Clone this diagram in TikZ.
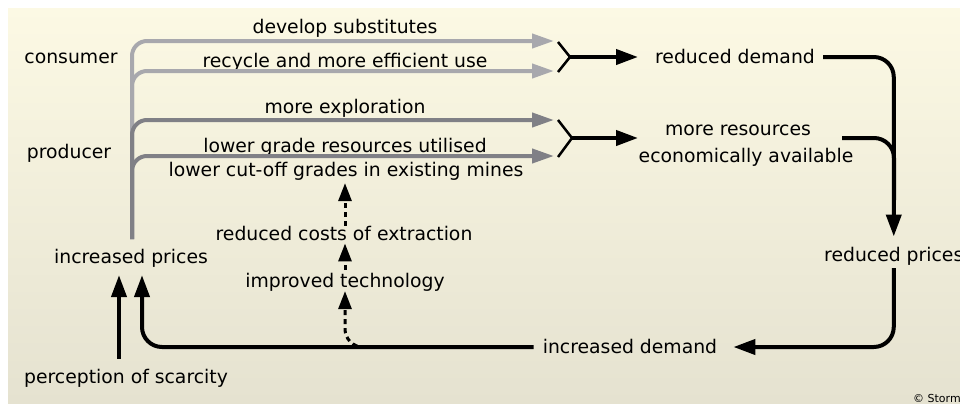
\documentclass[tikz,border=0pt]{standalone}
\usepackage{fontspec}
\setmainfont{DejaVu Sans}
\usetikzlibrary{arrows.meta,calc}
\definecolor{bgtop}{RGB}{252,249,228}
\definecolor{bgbot}{RGB}{229,226,208}
\definecolor{glight}{RGB}{168,168,173}
\definecolor{gdark}{RGB}{128,128,134}
\begin{document}
\begin{tikzpicture}[x=1pt,y=-1pt,
  lbl/.style={inner sep=0pt, anchor=base, font=\fontsize{18.8}{22}\selectfont},
  garr/.style={line width=4pt, rounded corners=15pt, -{Triangle[length=22pt,width=14pt]}},
  blk/.style={line width=4pt, black},
  blkarr/.style={blk, -{Triangle[length=22pt,width=15pt]}},
  dsh/.style={line width=3pt, black, dash pattern=on 5pt off 4pt, -{Triangle[length=18pt,width=13pt]}},
  merge/.style={line width=2.5pt, black}]
\useasboundingbox (0,0) rectangle (960,405);
\clip (0,0) rectangle (960,405);
\fill[white] (0,0) rectangle (960,405);
\shade[top color=bgtop, bottom color=bgbot] (8,8) rectangle (960,403);

% text nodes
\node[lbl] (cons) at (71,63) {consumer};
\node[lbl] (prod) at (69,158) {producer};
\node[lbl] (ds) at (345,33) {develop substitutes};
\node[lbl] (rec) at (345,67) {recycle and more efficient use};
\node[lbl] (mex) at (345,113) {more exploration};
\node[lbl] (lg) at (345,152) {lower grade resources utilised};
\node[lbl] (lc) at (346,176) {lower cut-off grades in existing mines};
\node[lbl] (rd) at (735,63) {reduced demand};
\node[lbl] (mr1) at (738,135) {more resources};
\node[lbl] (mr2) at (746,162) {economically available};
\node[lbl] (ip) at (131,263) {increased prices};
\node[lbl] (ps) at (126,383) {perception of scarcity};
\node[lbl] (rc) at (344,240) {reduced costs of extraction};
\node[lbl] (it) at (345,287) {improved technology};
\node[lbl] (idm) at (630,353) {increased demand};
\node[lbl, anchor=base west] (rp) at (824,261) {reduced prices};
\node[inner sep=0pt, anchor=base west, font=\fontsize{11}{13}\selectfont] (copy) at (913,402) {© Storm};

% coordinates
\coordinate (trunk) at (132,239);
\coordinate (g1) at (554,41);
\coordinate (g2) at (554,71);
\coordinate (g3) at (554,120);
\coordinate (g4) at (554,156);
\coordinate (m1t) at (558,42);
\coordinate (j1) at (570,57);
\coordinate (m1b) at (558,72);
\coordinate (m2t) at (558,120);
\coordinate (j2) at (572,138);
\coordinate (m2b) at (558,157);
\coordinate (a1) at (638,57);
\coordinate (a2) at (638,138);
\coordinate (mrs) at (842,138);
\coordinate (mrc) at (894,138);
\coordinate (mre) at (894,200);
\coordinate (dst) at (366,347);

% gray arrows (consumer)
\draw[glight,garr] (trunk) -- (trunk |- g1) -- (g1);
\draw[glight,garr] (trunk) -- (trunk |- g2) -- (g2);
% gray arrows (producer)
\draw[gdark,garr] (trunk) -- (trunk |- g3) -- (g3);
\draw[gdark,garr] (trunk) -- (trunk |- g4) -- (g4);

% merges
\draw[merge] (m1t) -- (j1) -- (m1b);
\draw[merge] (m2t) -- (j2) -- (m2b);
\draw[blkarr] (j1) -- (a1);
\draw[blkarr] (j2) -- (a2);

% right loop
\draw[blkarr, rounded corners=20pt] ($(rd.base east)+(8,-6)$) -| ($(rp.north)+(0,-10)$);
\draw[blk, rounded corners=20pt] (mrs) -- (mrc) -- (mre);
\draw[blkarr, rounded corners=20pt] ($(rp.south)+(0,3)$) |- ($(idm.base east)+(16,-6)$);
\draw[blkarr, rounded corners=20pt] ($(idm.base west)+(-9,-6)$) -| ($(ip.south)+(11,8)$);
\draw[blkarr] ($(ps.north)+(-7,-10)$) -- ($(ip.south)+(-12,8)$);

% dashed technology chain
\draw[dsh, rounded corners=18pt] (dst) -| (it.south);
\draw[dsh] ($(it.north)+(0,-3)$) -- ($(it.north |- rc.south)+(0,3)$);
\draw[dsh] ($(rc.north)+(1,0)$) -- ($(rc.north |- lc.south)+(1,3)$);
\end{tikzpicture}
\end{document}
